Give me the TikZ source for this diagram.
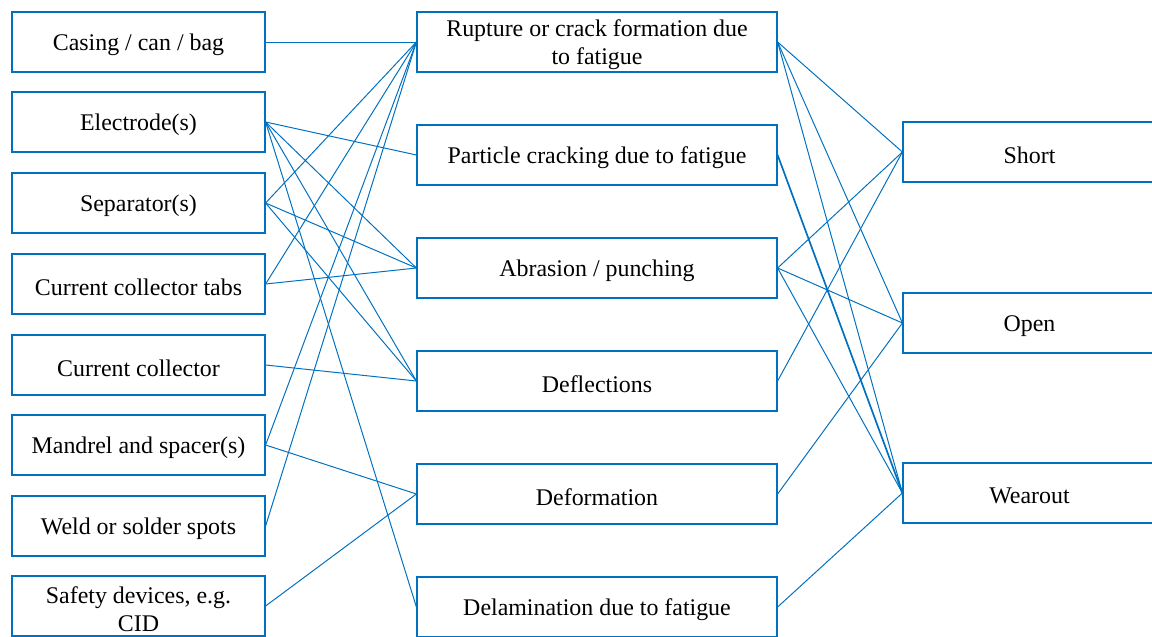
\documentclass[tikz,border=0pt]{standalone}
\usepackage{fontspec}
\setmainfont{Liberation Serif}
\usepackage{xcolor}
\usepackage{tikz}
\definecolor{lineblue}{RGB}{0,112,192}

\begin{document}
\begin{tikzpicture}[x=0.025cm,y=-0.025cm,
    box/.style={draw=lineblue,line width=0.8pt,minimum height=1.5cm,inner sep=0pt},
    boxtext/.style={align=center,inner sep=0pt,yshift=-2.2pt,font=\fontsize{17}{20}\selectfont},
    link/.style={draw=lineblue,line width=0.7pt}]
    \useasboundingbox (0,0) rectangle (1152,637);

    % Components - left column
    \foreach \name/\y/\txt in {casing/42/{Casing / can / bag}, electrode/122/{Electrode(s)}, separator/203/{Separator(s)}, tabs/284/{Current collector tabs}, collector/365/{Current collector}, mandrel/445/{Mandrel and spacer(s)}, weld/526/{Weld or solder spots}, safety/606/{Safety devices, e.g.\\CID}} {
        \node[box,minimum width=6.325cm,label={[boxtext]center:\txt}] (\name) at (138.5,\y) {};
    }

    % Mechanisms - middle column
    \foreach \name/\y/\txt in {rupture/42/{Rupture or crack formation due\\to fatigue}, particle/155/{Particle cracking due to fatigue}, abrasion/268/{Abrasion / punching}, deflect/381/{Deflections}, deform/494/{Deformation}, delam/607/{Delamination due to fatigue}} {
        \node[box,minimum width=9cm,label={[boxtext]center:\txt}] (\name) at (597,\y) {};
    }

    % Failure modes - right column
    \foreach \name/\y/\txt in {short/152/{Short}, open/323/{Open}, wearout/493/{Wearout}} {
        \node[box,minimum width=6.325cm,label={[boxtext]center:\txt}] (\name) at (1029.5,\y) {};
    }

    % Component -> mechanism
    \foreach \a/\b in {casing/rupture, separator/rupture, tabs/rupture, mandrel/rupture, weld/rupture, electrode/particle, electrode/abrasion, electrode/deflect, electrode/delam, separator/abrasion, separator/deflect, tabs/abrasion, collector/deflect, mandrel/deform, safety/deform} {
        \draw[link] (\a.east) -- (\b.west);
    }

    % Mechanism -> failure mode
    \foreach \a/\b in {rupture/short, rupture/open, rupture/wearout, abrasion/short, abrasion/open, abrasion/wearout, deflect/short, deform/open, delam/wearout} {
        \draw[link] (\a.east) -- (\b.west);
    }
    \draw[link,line width=1.2pt] (particle.east) -- (wearout.west);
\end{tikzpicture}
\end{document}
